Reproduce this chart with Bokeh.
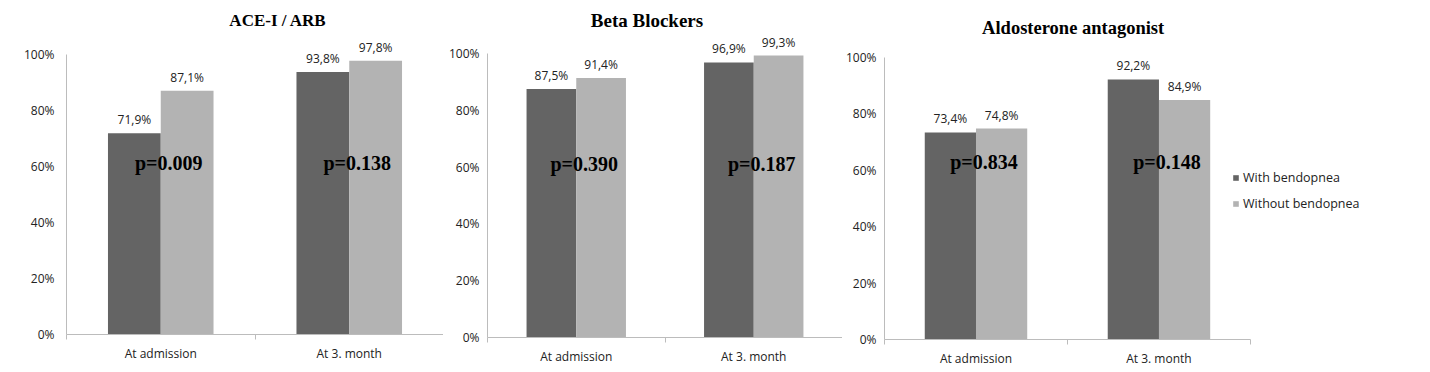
from bokeh.plotting import figure
from bokeh.models import (ColumnDataSource, Range1d, FixedTicker, PrintfTickFormatter,
                          LabelSet, Label, Legend, LegendItem)
from bokeh.core.properties import value
from bokeh.layouts import row
from bokeh.transform import dodge
from bokeh.embed import file_html
from bokeh.resources import INLINE

# ---------------- data ----------------
CATEGORIES = ["At admission", "At 3. month"]
SERIES = ["With bendopnea", "Without bendopnea"]
TITLES = ["ACE-I / ARB", "Beta Blockers", "Aldosterone  antagonist"]

ACE_WITH = [71.9, 93.8]
ACE_WITHOUT = [87.1, 97.8]
ACE_P = ["p=0.009", "p=0.138"]

BB_WITH = [87.5, 96.9]
BB_WITHOUT = [91.4, 99.3]
BB_P = ["p=0.390", "p=0.187"]

ALDO_WITH = [73.4, 92.2]
ALDO_WITHOUT = [74.8, 84.9]
ALDO_P = ["p=0.834", "p=0.148"]

Y_TICKS = [0, 20, 40, 60, 80, 100]

# ---------------- style ----------------
DARK = "#646464"
LIGHT = "#b3b3b3"
AXIS = "#bcbcbc"
TEXT = "#222222"
SANS = "Open Sans"
SERIF = "Liberation Serif"

PANELS = [
    dict(title=TITLES[0], w=ACE_WITH, wo=ACE_WITHOUT, p=ACE_P,
         bl=66, fw=377, xmax=2.0, fh=334, ymax=119.3, bb=28, ystand=12,
         tsize="17px", tdx=23, ty=112.1, py=61.3),
    dict(title=TITLES[1], w=BB_WITH, wo=BB_WITHOUT, p=BB_P,
         bl=44, fw=355, xmax=2.0, fh=337, ymax=118.7, bb=25, ystand=8,
         tsize="19px", tdx=-18, ty=111.6, py=61.1),
    dict(title=TITLES[2], w=ALDO_WITH, wo=ALDO_WITHOUT, p=ALDO_P,
         bl=42, fw=516, xmax=2.82, fh=339, ymax=120.2, bb=23, ystand=8,
         tsize="18.5px", tdx=8, ty=110.6, py=62.8),
]


def fmt(v):
    return f"{v:.1f}".replace(".", ",") + "%"


def make_panel(spec, legend=False):
    ncat = len(CATEGORIES)
    xs = [i + 0.5 for i in range(ncat)]
    src = ColumnDataSource(dict(
        x=xs,
        w=spec["w"], wo=spec["wo"],
        wl=[fmt(v) for v in spec["w"]],
        wol=[fmt(v) for v in spec["wo"]],
        p=spec["p"],
        py=[spec["py"]] * ncat,
    ))
    p = figure(frame_width=spec["fw"], frame_height=spec["fh"],
               min_border_left=spec["bl"], min_border_right=0,
               min_border_top=0, min_border_bottom=spec["bb"],
               x_range=Range1d(0, spec["xmax"]), y_range=Range1d(0, spec["ymax"]),
               output_backend="svg", toolbar_location=None, tools="")
    p.outline_line_color = None
    p.grid.visible = False
    p.background_fill_color = "white"
    p.border_fill_color = "white"

    bw = 0.28
    r1 = p.vbar(x=dodge("x", -bw / 2, range=p.x_range), top="w", width=bw, bottom=0,
                source=src, fill_color=DARK, line_color=None)
    r2 = p.vbar(x=dodge("x", bw / 2, range=p.x_range), top="wo", width=bw, bottom=0,
                source=src, fill_color=LIGHT, line_color=None)

    for fld, lbl, dx in (("w", "wl", -bw / 2), ("wo", "wol", bw / 2)):
        p.add_layout(LabelSet(x=dodge("x", dx, range=p.x_range), y=fld, text=lbl, source=src,
                              text_align="center", text_baseline="bottom", y_offset=5,
                              text_font=value(SANS), text_font_size=value("12px"),
                              text_color=TEXT))

    p.add_layout(LabelSet(x="x", y="py", text="p", source=src, x_offset=8,
                          text_align="center", text_baseline="middle",
                          text_font=value(SERIF), text_font_style="bold",
                          text_font_size=value("20px"), text_color="black"))

    p.add_layout(Label(x=ncat / 2, y=spec["ty"], x_offset=spec["tdx"],
                       text=spec["title"], text_align="center", text_baseline="middle",
                       text_font=SERIF, text_font_style="bold", text_font_size=spec["tsize"],
                       text_color="black"))

    # axes
    xa = p.xaxis[0]
    xa.bounds = (0, ncat)
    xa.ticker = FixedTicker(ticks=xs, minor_ticks=list(range(ncat + 1)))
    xa.major_label_overrides = {x: c for x, c in zip(xs, CATEGORIES)}
    xa.major_tick_line_color = None
    xa.major_tick_out = 0
    xa.major_tick_in = 0
    xa.minor_tick_line_color = AXIS
    xa.minor_tick_out = 5
    xa.minor_tick_in = 0
    xa.axis_line_color = AXIS
    xa.major_label_standoff = 5
    xa.major_label_text_font = SANS
    xa.major_label_text_font_size = "12px"
    xa.major_label_text_color = TEXT

    ya = p.yaxis[0]
    ya.bounds = (0, 100)
    ya.ticker = FixedTicker(ticks=Y_TICKS, minor_ticks=[])
    ya.formatter = PrintfTickFormatter(format="%d%%")
    ya.major_tick_line_color = None
    ya.major_tick_out = 0
    ya.major_tick_in = 0
    ya.minor_tick_line_color = None
    ya.axis_line_color = AXIS
    ya.major_label_standoff = spec["ystand"]
    ya.major_label_text_font = SANS
    ya.major_label_text_font_size = "12px"
    ya.major_label_text_color = TEXT

    if legend:
        lg = Legend(items=[LegendItem(label=SERIES[0], renderers=[r1]),
                           LegendItem(label=SERIES[1], renderers=[r2])],
                    location=(348, 127), padding=0, margin=0, spacing=9,
                    glyph_width=7, glyph_height=7, label_height=16, label_standoff=4,
                    label_text_font=SANS, label_text_font_size="12.5px",
                    label_text_color=TEXT, border_line_color=None,
                    background_fill_alpha=0)
        p.add_layout(lg)
    return p


figs = [make_panel(PANELS[0]), make_panel(PANELS[1]), make_panel(PANELS[2], legend=True)]
layout = row(*figs, spacing=0)

open("out.html", "w").write(file_html(layout, INLINE))
